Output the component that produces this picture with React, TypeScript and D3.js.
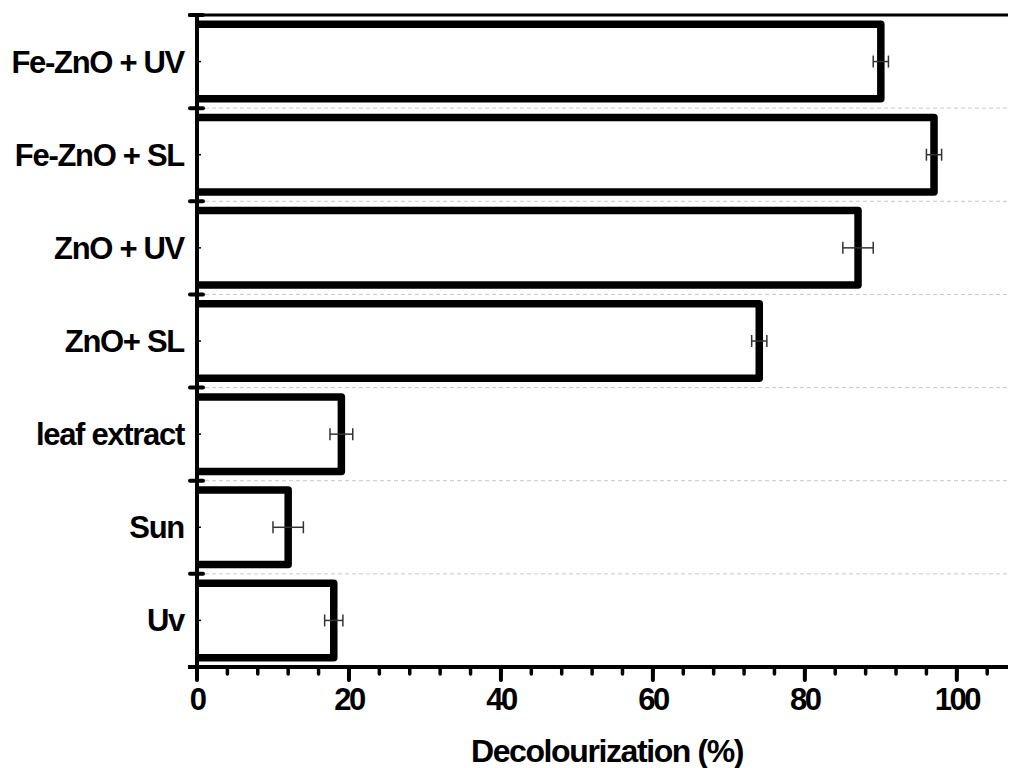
import React, { useEffect } from "react";
import * as d3 from "d3";

// values
const categories = ["Fe-ZnO + UV", "Fe-ZnO + SL", "ZnO + UV", "ZnO+ SL", "leaf extract", "Sun", "Uv"];
const values = [90, 97, 87, 74, 19, 12, 18];
const errors = [1, 1, 2, 1, 1.5, 2, 1.2];
const majorTicks = [0, 20, 40, 60, 80, 100];
const minorTicks = d3.range(0, 107, 4);

const font = "'Liberation Sans', Arial, Helvetica, sans-serif";

const App: React.FC = () => {
  useEffect(() => {
    document.body.style.margin = "0";
  }, []);

  const width = 1010;
  const height = 768;
  const left = 197;
  const top = 15;
  const bottom = 667;
  const right = 1008;

  const x = d3.scaleLinear().domain([0, 107]).range([left, 1010]);
  const y = d3
    .scaleBand<string>()
    .domain(categories)
    .range([top, bottom])
    .paddingInner(0.2)
    .paddingOuter(0.1);

  const step = y.step();
  const bw = y.bandwidth();
  // category boundaries (between bands)
  const bounds = categories.map((c) => (y(c) ?? 0) - step * 0.1);
  const innerBounds = bounds.slice(1);

  return (
    <svg width={width} height={height} style={{ display: "block", background: "#fff" }}>
      {/* dashed gridlines at category boundaries */}
      {innerBounds.map((b, i) => (
        <line
          key={"g" + i}
          x1={205}
          x2={right}
          y1={b}
          y2={b}
          stroke="#c8c8c8"
          strokeWidth={1}
          strokeDasharray="4,3"
        />
      ))}

      {/* bars: open on the left, the axis closes them */}
      {categories.map((c, i) => {
        const y0 = y(c) ?? 0;
        const x0 = x(0);
        const x1 = x(values[i]);
        return (
          <path
            key={"b" + i}
            d={`M${x0},${y0}H${x1}V${y0 + bw}H${x0}`}
            fill="#fff"
            stroke="#000"
            strokeWidth={7.5}
            strokeLinejoin="round"
          />
        );
      })}

      {/* error bars */}
      {categories.map((c, i) => {
        const cy = (y(c) ?? 0) + bw / 2;
        const lo = x(values[i] - errors[i]);
        const hi = x(values[i] + errors[i]);
        return (
          <g key={"e" + i} stroke="#333" strokeWidth={1.5}>
            <line x1={lo} x2={hi} y1={cy} y2={cy} />
            <line x1={lo} x2={lo} y1={cy - 6} y2={cy + 6} />
            <line x1={hi} x2={hi} y1={cy - 6} y2={cy + 6} />
          </g>
        );
      })}

      {/* top frame line */}
      <line x1={188} x2={right} y1={top} y2={top} stroke="#000" strokeWidth={3} />

      {/* y axis */}
      <line x1={left} x2={left} y1={top} y2={bottom} stroke="#000" strokeWidth={4} />
      {bounds.map((b, i) => (
        <line
          key={"yt" + i}
          x1={190}
          x2={203}
          y1={b}
          y2={b}
          stroke="#000"
          strokeWidth={4}
          strokeLinecap="round"
        />
      ))}
      {categories.map((c, i) => (
        <line
          key={"yc" + i}
          x1={left}
          x2={left + 4}
          y1={(y(c) ?? 0) + bw / 2}
          y2={(y(c) ?? 0) + bw / 2}
          stroke="#000"
          strokeWidth={1.5}
        />
      ))}
      {categories.map((c, i) => (
        <text
          key={"yl" + i}
          x={184}
          y={(y(c) ?? 0) + bw / 2 + 11}
          textAnchor="end"
          fontFamily={font}
          fontWeight="bold"
          fontSize={31}
          letterSpacing={-1.3}
        >
          {c}
        </text>
      ))}

      {/* x axis */}
      <line x1={188} x2={right} y1={bottom} y2={bottom} stroke="#000" strokeWidth={4} />
      {minorTicks.map((t) => (
        <line
          key={"mt" + t}
          x1={x(t)}
          x2={x(t)}
          y1={bottom}
          y2={674}
          stroke="#000"
          strokeWidth={3.5}
          strokeLinecap="round"
        />
      ))}
      {majorTicks.map((t) => (
        <line
          key={"Mt" + t}
          x1={x(t)}
          x2={x(t)}
          y1={bottom}
          y2={680}
          stroke="#000"
          strokeWidth={4}
          strokeLinecap="round"
        />
      ))}
      {majorTicks.map((t) => (
        <text
          key={"xl" + t}
          x={x(t)}
          y={710}
          textAnchor="middle"
          fontFamily={font}
          fontWeight="bold"
          fontSize={31}
          letterSpacing={-2.5}
        >
          {t}
        </text>
      ))}
      <text
        x={607}
        y={762}
        textAnchor="middle"
        fontFamily={font}
        fontWeight="bold"
        fontSize={32}
        letterSpacing={-1.4}
      >
        Decolourization (%)
      </text>
    </svg>
  );
};

export default App;
